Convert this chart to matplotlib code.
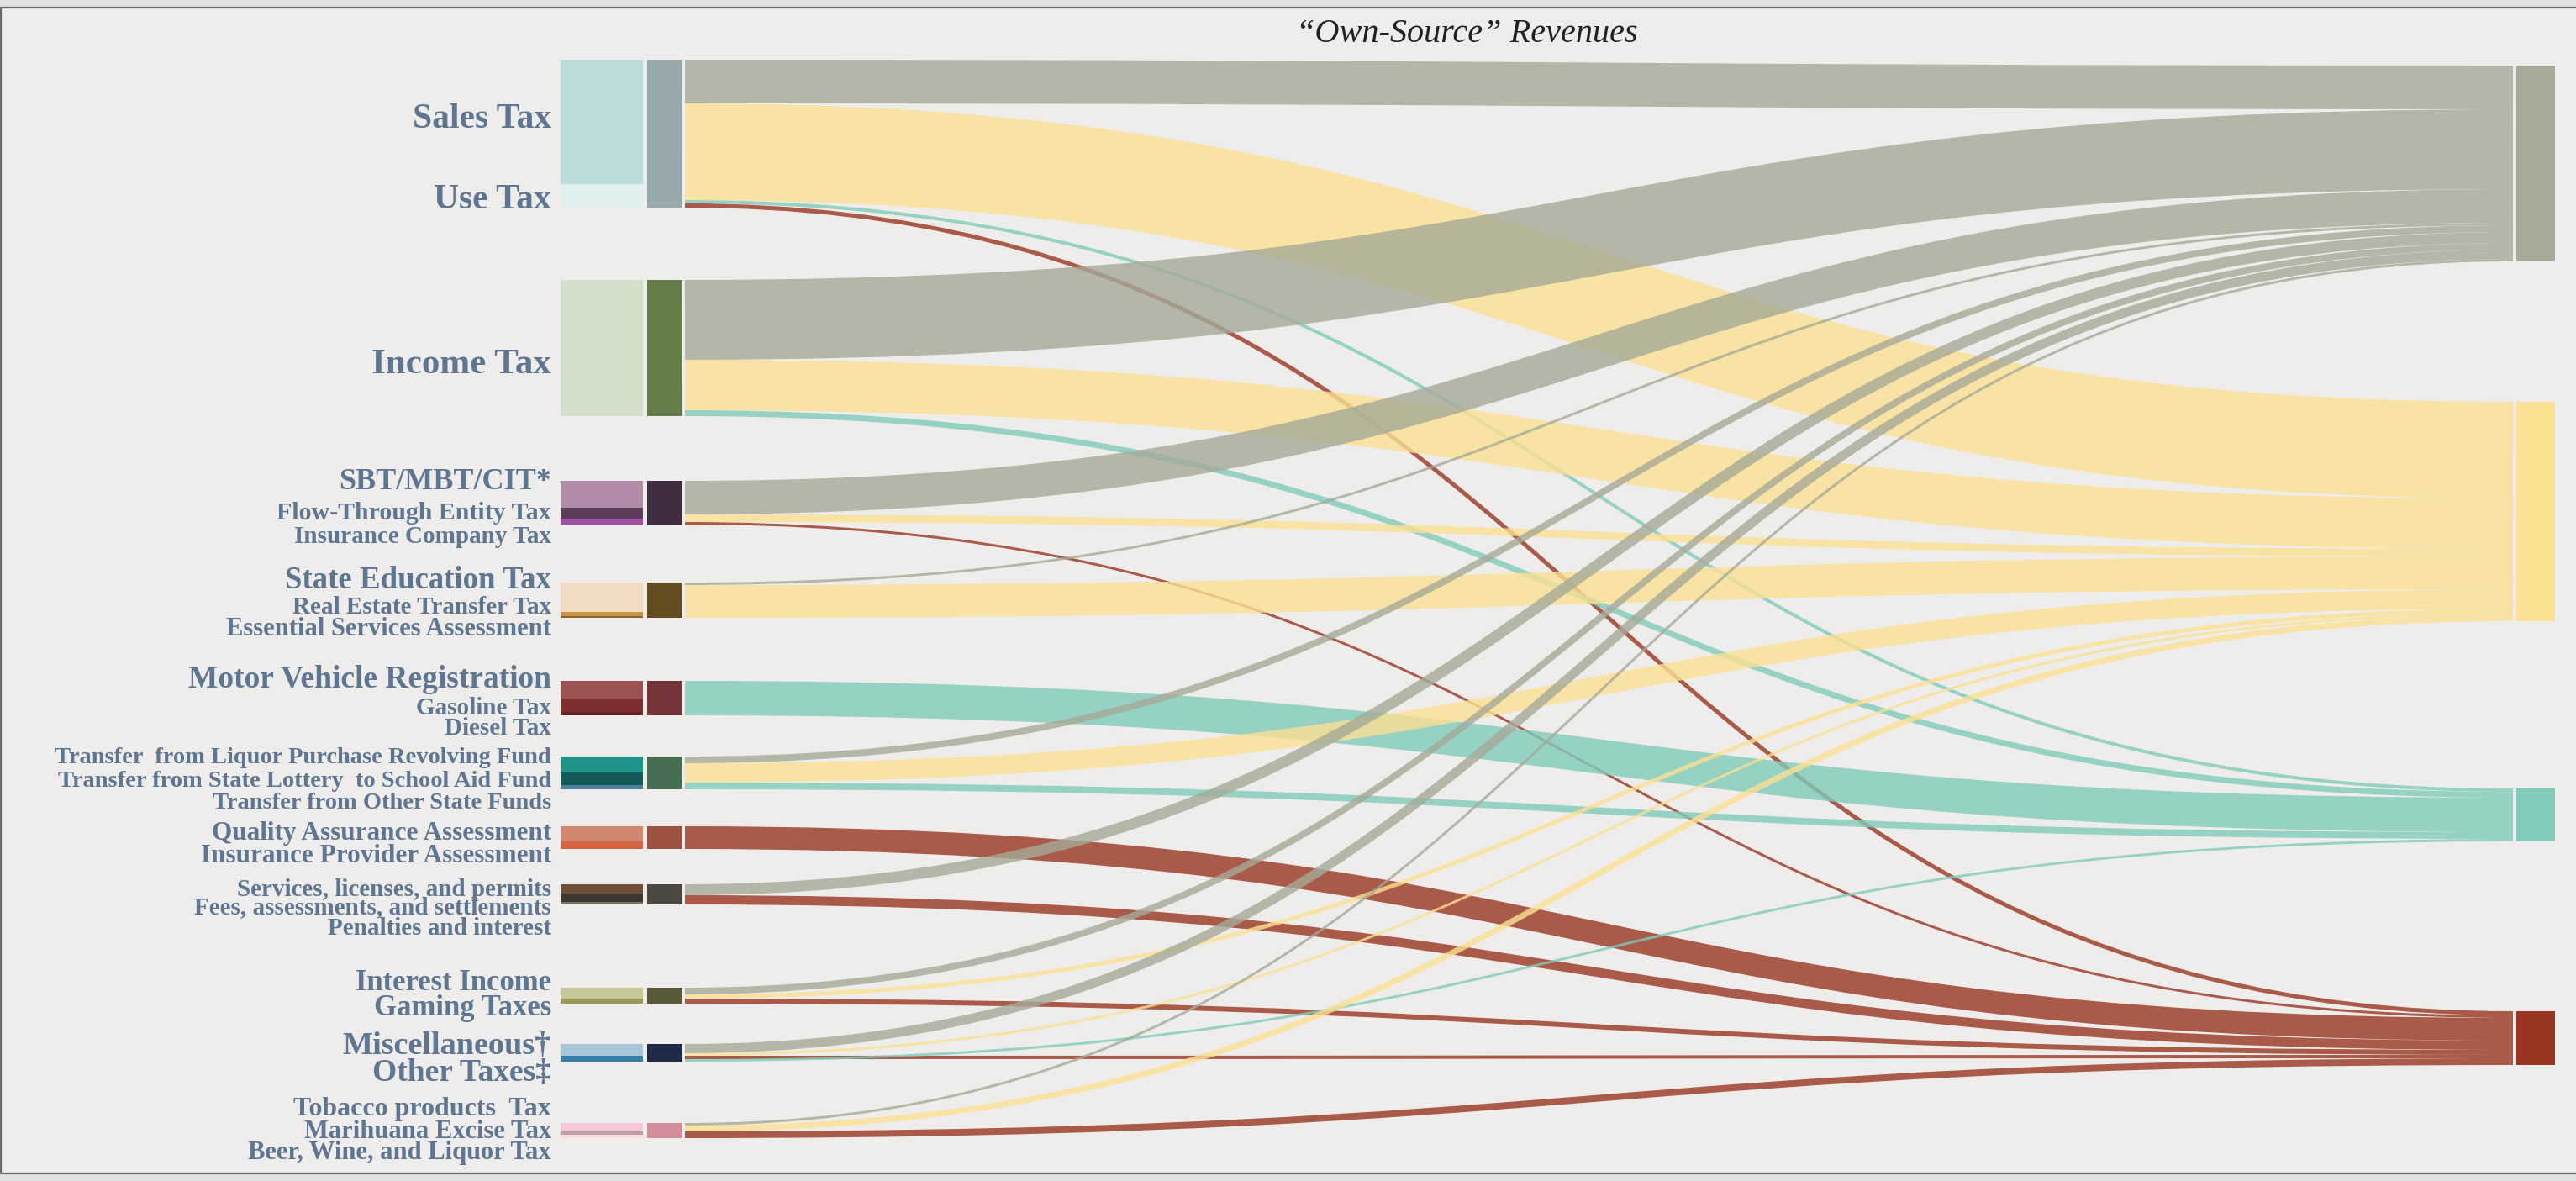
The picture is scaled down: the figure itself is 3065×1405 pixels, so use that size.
import matplotlib.pyplot as plt
from matplotlib.path import Path
from matplotlib.patches import PathPatch, Rectangle

# left groups: one aggregated node per group, split into its parts
group_labels = [
    ["Sales Tax", "Use Tax"],
    ["Income Tax"],
    ["SBT/MBT/CIT*", "Flow-Through Entity Tax", "Insurance Company Tax"],
    ["State Education Tax", "Real Estate Transfer Tax", "Essential Services Assessment"],
    ["Motor Vehicle Registration", "Gasoline Tax", "Diesel Tax"],
    ["Transfer  from Liquor Purchase Revolving Fund",
     "Transfer from State Lottery  to School Aid Fund",
     "Transfer from Other State Funds"],
    ["Quality Assurance Assessment", "Insurance Provider Assessment"],
    ["Services, licenses, and permits", "Fees, assessments, and settlements",
     "Penalties and interest"],
    ["Interest Income", "Gaming Taxes"],
    ["Miscellaneous\u2020", "Other Taxes\u2021"],
    ["Tobacco products  Tax", "Marihuana Excise Tax", "Beer, Wine, and Liquor Tax"],
]
part_values = [
    [149, 28],
    [162],
    [33, 13, 7],
    [35, 5, 2],
    [21, 16, 4],
    [19, 15, 5],
    [18, 9],
    [11, 10, 3],
    [13, 6],
    [13, 7],
    [11, 4, 4],
]

# right-hand (unlabelled) destination nodes
targets = ["gray", "yellow", "teal", "red"]

# flows: source group -> target, listed in the order they stack at the source
link_src = [0, 0, 0, 0, 1, 1, 1, 2, 2, 2, 3, 3, 4, 5, 5, 5, 6, 7, 7,
            8, 8, 8, 9, 9, 9, 9, 10, 10, 10]
link_tgt = [0, 1, 2, 3, 0, 1, 2, 0, 1, 3, 0, 1, 2, 0, 1, 2, 3, 0, 3,
            0, 1, 3, 0, 1, 3, 2, 0, 1, 3]
link_val = [52, 115, 4, 5, 95, 60, 7, 40, 9, 3, 3, 39, 41, 8, 23, 8, 27, 13, 11,
            8, 5, 6, 11, 3, 4, 3, 3, 7, 8]

# ---- styling / layout ----
part_colors = [
    ["#bcdcdb", "#dff0ef"],
    ["#d3dfc8"],
    ["#b08ca8", "#5a3d58", "#a050a0"],
    ["#f2dcc0", "#c8964a", "#8a6420"],
    ["#9a5252", "#7d2f2f", "#6a2525"],
    ["#1f9488", "#135a58", "#4e7f9a"],
    ["#d0876e", "#d46442"],
    ["#6e4e35", "#3e3832", "#7a6f65"],
    ["#c6c796", "#9e9b5a"],
    ["#a8c6da", "#3880a8"],
    ["#f4c8d4", "#c0a0a8", "#fbdcd8"],
]
group_colors = ["#97a9ad", "#657c4b", "#412d41", "#634c1f", "#733538", "#456e53",
                "#9c5240", "#4d4742", "#5b5a38", "#1f2a4a", "#d48c9a"]
target_colors = ["#a6aa98", "#fbe192", "#80ccbb", "#993520"]

label_y = [
    [136, 232], [428], [567, 605, 632], [684, 716, 742], [803, 837, 860],
    [896, 923, 949], [986, 1013], [1052, 1074, 1098], [1163, 1194],
    [1239, 1270], [1314, 1341, 1366],
]
label_size = [
    [30, 30], [31], [26, 21.5, 21], [26.5, 21, 22], [27, 21, 21],
    [20.5, 20.5, 20.5], [22.5, 22.5], [21, 21, 21], [25, 25],
    [27.5, 27], [23, 22, 22],
]
label_dy = 6

W, H, DPI = 3065, 1405, 100
src_top, src_gaps = 71, [86, 77, 69, 75, 49, 44, 42, 99, 48, 73]
tgt_top, tgt_gaps = 78, [167, 199, 202]
part_x0, part_x1 = 667, 765
grp_x0, grp_x1 = 770, 812
tgt_x0, tgt_x1 = 2994, 3040
link_x0, link_x1 = 815, 2990
label_x = 656
text_color = "#5e7691"
serif = ["Liberation Serif", "DejaVu Serif"]

fig = plt.figure(figsize=(W / DPI, H / DPI), dpi=DPI, facecolor="#e3e2e0")
ax = fig.add_axes([0, 0, 1, 1])
ax.set_xlim(0, W)
ax.set_ylim(H, 0)
ax.axis("off")

ax.add_patch(Rectangle((1, 9), W + 10, 1387, facecolor="#eeedeb",
                       edgecolor="#6a6a6a", lw=1.6, zorder=0))

n_src = len(group_labels)
src_tot = [sum(v for s, v in zip(link_src, link_val) if s == i) for i in range(n_src)]
tgt_tot = [sum(v for t, v in zip(link_tgt, link_val) if t == j) for j in range(len(targets))]

# node positions
src_y = []
y = src_top
for i in range(n_src):
    src_y.append(y)
    if i < len(src_gaps):
        y += src_tot[i] + src_gaps[i]
tgt_y = []
y = tgt_top
for j in range(len(targets)):
    tgt_y.append(y)
    if j < len(tgt_gaps):
        y += tgt_tot[j] + tgt_gaps[j]

# link offsets at source (list order) and at target (source order)
src_off = list(src_y)
ys_list = []
for s, v in zip(link_src, link_val):
    ys_list.append(src_off[s])
    src_off[s] += v
tgt_off = list(tgt_y)
yt_list = [0] * len(link_val)
for k in sorted(range(len(link_val)), key=lambda k: (link_src[k], k)):
    t = link_tgt[k]
    yt_list[k] = tgt_off[t]
    tgt_off[t] += link_val[k]

xm = (link_x0 + link_x1) / 2
for k in range(len(link_val)):
    w = link_val[k]
    a = ys_list[k] + w / 2
    b = yt_list[k] + w / 2
    path = Path([(link_x0, a), (xm, a), (xm, b), (link_x1, b)],
                [Path.MOVETO, Path.CURVE4, Path.CURVE4, Path.CURVE4])
    ax.add_patch(PathPatch(path, fill=False, edgecolor=target_colors[link_tgt[k]],
                           lw=w * 72 / DPI, alpha=0.8, capstyle="butt", zorder=2))

# left nodes
for i in range(n_src):
    ax.add_patch(Rectangle((grp_x0, src_y[i]), grp_x1 - grp_x0, src_tot[i],
                           facecolor=group_colors[i], edgecolor="none", zorder=3))
    tot = sum(part_values[i])
    y = src_y[i]
    for v, c in zip(part_values[i], part_colors[i]):
        h = v / tot * src_tot[i]
        ax.add_patch(Rectangle((part_x0, y), part_x1 - part_x0, h,
                               facecolor=c, edgecolor="none", zorder=3))
        y += h
    for lab, ly, fs in zip(group_labels[i], label_y[i], label_size[i]):
        ax.text(label_x, ly + label_dy, lab, ha="right", va="center", fontsize=fs,
                fontweight="bold", family=serif, color=text_color)

# right nodes
for j in range(len(targets)):
    ax.add_patch(Rectangle((tgt_x0, tgt_y[j]), tgt_x1 - tgt_x0, tgt_tot[j],
                           facecolor=target_colors[j], edgecolor="none", zorder=3))

ax.text(1745, 40, "\u201cOwn-Source\u201d Revenues", ha="center", va="center",
        fontsize=29, style="italic", family=serif, color="#222222")

fig.savefig("out.png", dpi=DPI, facecolor=fig.get_facecolor())
